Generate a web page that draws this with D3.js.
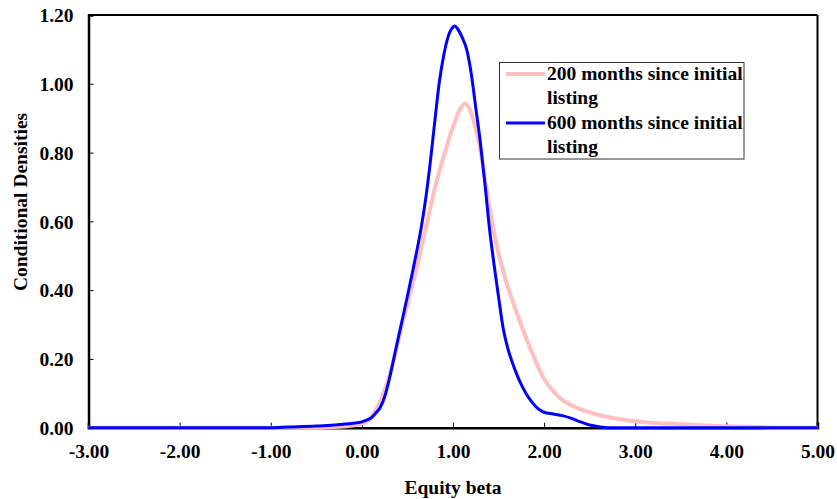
<!DOCTYPE html>
<html><head><meta charset="utf-8">
<script src="https://cdn.jsdelivr.net/npm/d3@7"></script>
<style>
body{margin:0;background:#fff;}
svg text{font-family:"Liberation Serif","Times New Roman",serif;font-weight:bold;fill:#000;}
</style></head>
<body><svg id="c" width="837" height="499"></svg>
<script>
// Data
const beta200 = [-3.0,-0.5,-0.3,-0.1,0.0,0.05,0.1,0.15,0.2,0.25,0.3,0.35,0.4,0.45,0.5,0.55,0.6,0.65,0.7,0.75,0.8,0.85,0.9,0.95,1.0,1.05,1.1,1.13,1.15,1.2,1.25,1.3,1.35,1.4,1.45,1.5,1.55,1.6,1.65,1.7,1.75,1.8,1.85,1.9,1.95,2.0,2.1,2.2,2.3,2.4,2.5,2.6,2.7,2.8,2.9,3.0,3.2,3.5,3.8,4.0,4.3,4.6,5.0];
const dens200 = [0,0,0.002,0.006,0.012,0.018,0.03,0.05,0.075,0.11,0.15,0.2,0.255,0.308,0.36,0.41,0.462,0.52,0.578,0.637,0.695,0.745,0.79,0.835,0.875,0.91,0.935,0.943,0.94,0.915,0.868,0.81,0.725,0.642,0.567,0.507,0.456,0.411,0.371,0.334,0.298,0.263,0.23,0.198,0.168,0.142,0.106,0.081,0.065,0.053,0.045,0.037,0.031,0.026,0.022,0.019,0.014,0.01,0.006,0.004,0.002,0,0];
const beta600 = [-3.0,-1.0,-0.8,-0.5,-0.3,-0.1,0.0,0.05,0.1,0.15,0.2,0.25,0.3,0.35,0.4,0.45,0.5,0.55,0.6,0.65,0.7,0.75,0.8,0.85,0.9,0.95,1.0,1.02,1.05,1.1,1.15,1.2,1.25,1.3,1.35,1.4,1.45,1.5,1.55,1.6,1.65,1.7,1.75,1.8,1.85,1.9,1.95,2.0,2.1,2.2,2.3,2.4,2.5,2.6,2.7,5.0];
const dens600 = [0,0,0.002,0.005,0.008,0.013,0.017,0.022,0.028,0.042,0.058,0.09,0.14,0.2,0.262,0.322,0.383,0.445,0.51,0.58,0.665,0.77,0.89,1.005,1.085,1.14,1.165,1.168,1.16,1.135,1.10,1.03,0.93,0.83,0.71,0.58,0.475,0.38,0.29,0.232,0.19,0.155,0.125,0.10,0.08,0.064,0.052,0.045,0.04,0.035,0.027,0.017,0.008,0.003,0,0];
const seriesNames = ["200 months since initial listing","600 months since initial listing"];
const seriesColors = ["#ffbfbf","#0000ff"];
const xTicks = [-3,-2,-1,0,1,2,3,4,5];
const yTicks = [0,0.2,0.4,0.6,0.8,1.0,1.2];
const xTitle = "Equity beta";
const yTitle = "Conditional Densities";

const svg = d3.select("#c");
const L=88.5, R=817.5, T=15, B=427.7;
const x = d3.scaleLinear().domain([-3,5]).range([L,R]);
const y = d3.scaleLinear().domain([0,1.2]).range([B,T]);
const fmt = v => d3.format(".2f")(v).replace("\u2212","-");

// frame top/right
svg.append("line").attr("x1",L).attr("x2",R).attr("y1",T).attr("y2",T).attr("stroke","#000").attr("stroke-width",2);
svg.append("line").attr("x1",R).attr("x2",R).attr("y1",T).attr("y2",B).attr("stroke","#000").attr("stroke-width",2);

const line = d3.line().x(d=>x(d[0])).y(d=>y(d[1])).curve(d3.curveMonotoneX);
const d200 = beta200.map((b,i)=>[b,dens200[i]]);
const d600 = beta600.map((b,i)=>[b,dens600[i]]);

// axes (ticks inward)
const xAxis = d3.axisBottom(x).tickValues(xTicks).tickSize(-5).tickFormat(fmt).tickPadding(16);
const yAxis = d3.axisLeft(y).tickValues(yTicks).tickSize(-5).tickFormat(fmt).tickPadding(15);
const gx = svg.append("g").attr("transform",`translate(0,${B})`).call(xAxis);
const gy = svg.append("g").attr("transform",`translate(${L},0)`).call(yAxis);
[gx,gy].forEach(g=>{
  g.select(".domain").attr("stroke","#000").attr("stroke-width",2.5);
  g.selectAll(".tick line").attr("stroke","#000").attr("stroke-width",1);
  g.selectAll(".tick text").style("font-size","19.5px").style("font-family","Liberation Serif").style("font-weight","bold").attr("fill","#000");
});
gy.selectAll(".tick text").attr("dy","0.35em");

svg.append("path").datum(d200).attr("d",line).attr("fill","none").attr("stroke",seriesColors[0]).attr("stroke-width",4);
svg.append("path").datum(d600).attr("d",line).attr("fill","none").attr("stroke",seriesColors[1]).attr("stroke-width",3);

// titles
svg.append("text").attr("x",453).attr("y",494).attr("text-anchor","middle").style("font-size","19.5px").text(xTitle);
svg.append("text").attr("transform","translate(27,202) rotate(-90)").attr("text-anchor","middle").style("font-size","19.5px").text(yTitle);

// legend
const lg = svg.append("g");
lg.append("rect").attr("x",499.5).attr("y",62.5).attr("width",244.5).attr("height",96.5).attr("fill","#fff").attr("stroke","#333").attr("stroke-width",1);
const rows=[74,123];
seriesNames.forEach((n,i)=>{
  lg.append("line").attr("x1",506).attr("x2",545).attr("y1",rows[i]).attr("y2",rows[i]).attr("stroke",seriesColors[i]).attr("stroke-width",i===0?4:3);
  const words = n.split(" ");
  const t = lg.append("text").attr("x",547).attr("y",rows[i]+6).style("font-size","19.5px");
  t.append("tspan").attr("x",547).text(words.slice(0,4).join(" "));
  t.append("tspan").attr("x",547).attr("dy",24).text(words.slice(4).join(" "));
});
</script></body></html>
